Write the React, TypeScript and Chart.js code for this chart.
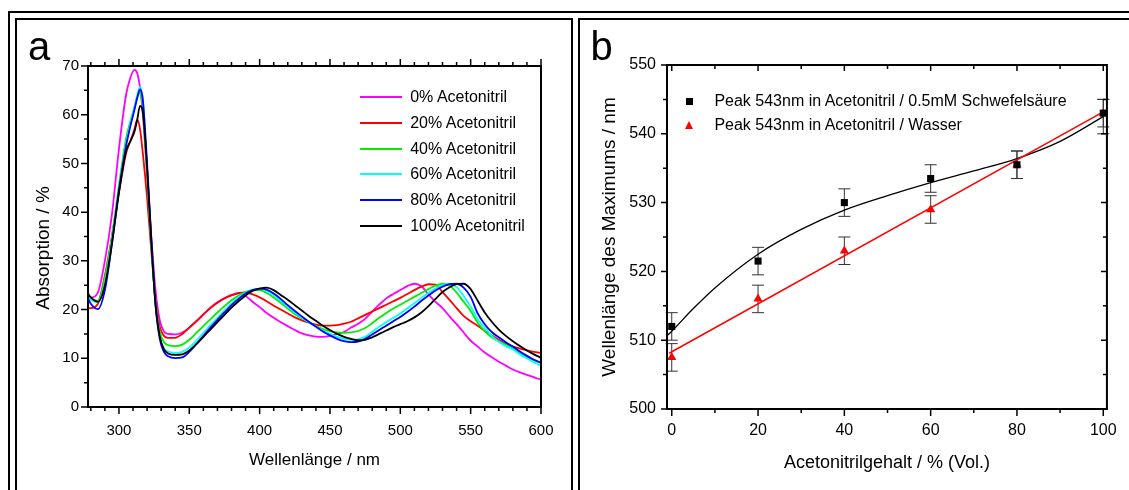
import React, { useEffect, useRef } from 'react';
import { Chart, registerables } from 'chart.js';

Chart.register(...registerables);

const FONT = '"Liberation Sans", Arial, Helvetica, sans-serif';

// ---------- Panel a: absorption spectra ----------
const wavelengths = [278, 280, 285, 290, 295, 300, 305, 308, 311, 313, 315, 317, 320, 323, 326, 329, 332,
  335, 340, 345, 350, 355, 360, 365, 370, 375, 380, 385, 390, 395, 400, 405, 410, 415, 420, 425, 430, 435,
  440, 445, 450, 455, 460, 465, 470, 475, 480, 485, 490, 495, 500, 505, 510, 515, 520, 525, 530, 535, 540,
  545, 550, 555, 560, 565, 570, 575, 580, 585, 590, 595, 600];

const abs0 = [23.0, 22.5, 23.5, 30.0, 39.5, 53.0, 64.0, 67.5, 69.2, 68.5, 65.5, 60.0, 47.5, 35.0, 24.0, 17.8, 15.5,
  15.0, 14.9, 15.3, 16.3, 17.6, 19.0, 20.4, 21.5, 22.3, 23.0, 23.4, 22.8, 21.6, 20.5, 19.3, 18.3, 17.4, 16.6, 15.8, 15.1, 14.7,
  14.45, 14.4, 14.6, 15.0, 15.4, 16.3, 17.1, 18.1, 19.6, 21.0, 22.3, 23.2, 24.0, 24.8, 25.3, 24.8, 23.1, 21.6, 20.3, 18.6, 17.0,
  15.3, 13.6, 12.4, 11.2, 10.2, 9.3, 8.5, 7.7, 7.1, 6.6, 6.1, 5.6];
const abs20 = [20.3, 20.3, 21.2, 27.0, 35.0, 44.0, 52.0, 54.5, 57.0, 59.0, 57.0, 52.0, 43.0, 32.0, 22.0, 16.5, 14.6,
  14.2, 14.2, 15.0, 16.3, 17.6, 19.0, 20.3, 21.4, 22.3, 22.9, 23.4, 23.5, 23.1, 22.5, 21.7, 20.8, 20.0, 19.2, 18.4, 17.8, 17.3,
  16.9, 16.7, 16.7, 16.8, 17.1, 17.5, 18.2, 18.9, 19.6, 20.3, 21.0, 21.7, 22.4, 23.2, 24.0, 24.7, 25.2, 25.1, 23.6, 22.0, 20.3,
  18.7, 17.6, 16.7, 15.6, 14.7, 13.8, 13.0, 12.4, 12.0, 11.6, 11.3, 11.1];
const abs40 = [22.5, 22.2, 21.8, 26.5, 35.0, 45.5, 55.0, 58.5, 61.5, 63.5, 64.5, 61.0, 48.0, 33.5, 21.5, 15.5, 13.3,
  12.7, 12.5, 12.8, 13.8, 15.2, 16.6, 18.0, 19.4, 20.7, 21.9, 22.9, 23.6, 24.0, 24.0, 23.4, 22.5, 21.4, 20.2, 19.1, 18.2, 17.4,
  16.6, 16.0, 15.6, 15.3, 15.2, 15.3, 15.6, 16.2, 17.2, 18.3, 19.3, 20.2, 21.0, 21.8, 22.6, 23.4, 24.2, 24.9, 25.3, 24.9, 23.5,
  21.6, 19.7, 17.3, 15.6, 14.3, 13.5, 12.8, 12.1, 11.1, 10.3, 9.6, 9.0];
const abs60 = [22.7, 22.0, 21.5, 25.5, 34.0, 45.0, 54.0, 58.0, 61.5, 64.0, 65.7, 63.0, 49.0, 33.5, 21.0, 14.5, 12.0,
  11.4, 11.1, 11.3, 12.2, 13.6, 15.2, 16.8, 18.3, 19.8, 21.2, 22.5, 23.4, 24.1, 24.3, 23.9, 23.0, 21.8, 20.6, 19.4, 18.4, 17.4,
  16.5, 15.7, 15.0, 14.4, 14.0, 13.8, 13.9, 14.4, 15.4, 16.5, 17.4, 18.3, 19.2, 20.2, 21.3, 22.4, 23.4, 24.3, 25.0, 25.3, 24.6,
  22.8, 20.6, 18.0, 16.3, 14.6, 13.4, 12.5, 11.8, 10.8, 10.0, 9.2, 8.5];
const abs80 = [22.3, 21.2, 20.1, 24.0, 33.5, 44.5, 53.5, 57.5, 61.0, 63.5, 65.2, 63.0, 50.0, 34.5, 21.0, 14.0, 11.3,
  10.4, 10.05, 10.2, 11.3, 12.9, 14.6, 16.3, 17.9, 19.4, 20.9, 22.2, 23.3, 24.0, 24.3, 24.1, 23.3, 22.2, 20.9, 19.7, 18.6, 17.5,
  16.5, 15.5, 14.7, 14.0, 13.5, 13.3, 13.4, 14.0, 14.9, 15.8, 16.7, 17.6, 18.5, 19.5, 20.6, 21.8, 22.9, 23.9, 24.7, 25.2, 25.3,
  24.5, 22.6, 19.2, 17.0, 15.4, 14.3, 13.3, 12.4, 11.4, 10.5, 9.7, 9.1];
const abs100 = [23.3, 22.5, 21.6, 25.0, 33.5, 44.0, 52.5, 54.5, 56.5, 59.0, 61.8, 60.5, 49.0, 34.0, 21.0, 14.5, 11.8,
  11.0, 10.7, 10.8, 11.6, 12.9, 14.4, 15.9, 17.4, 18.9, 20.4, 21.7, 22.9, 23.8, 24.3, 24.5, 24.0, 23.0, 22.0, 20.9, 19.8, 18.7,
  17.7, 16.7, 15.8, 15.0, 14.4, 14.0, 13.7, 13.8, 14.3, 15.0, 15.7, 16.4, 17.0, 17.6, 18.4, 19.4, 20.7, 22.2, 23.6, 24.6, 25.2,
  25.3, 24.2, 21.8, 19.4, 17.5, 15.9, 14.6, 13.5, 12.5, 11.6, 10.8, 10.1];

const seriesLabels = ['0% Acetonitril', '20% Acetonitril', '40% Acetonitril', '60% Acetonitril', '80% Acetonitril', '100% Acetonitril'];
const seriesColors = ['#ff00ff', '#ff0000', '#00ee00', '#00ffff', '#0000ff', '#000000'];
const seriesValues = [abs0, abs20, abs40, abs60, abs80, abs100];

const aXTicks = [300, 350, 400, 450, 500, 550, 600];
const aYTicks = [0, 10, 20, 30, 40, 50, 60, 70];

// ---------- Panel b: peak position vs. acetonitrile content ----------
const content = [0, 20, 40, 60, 80, 100];
const peakAcid = [512, 521.5, 530, 533.5, 535.5, 543];
const acidLow = [510, 519.5, 528, 531.5, 533.5, 541];
const acidHigh = [514, 523.5, 532, 535.5, 537.5, 545];
const peakWater = [507.5, 516, 523, 529, 535.5, 543];
const waterLow = [505.5, 514, 521, 527, 533.5, 540];
const waterHigh = [509.5, 518, 525, 531, 537.5, 545];

const fitAcidX = [-1, 0, 5, 10, 20, 30, 40, 50, 60, 70, 80, 90, 100];
const fitAcidY = [510.7, 511.3, 514.6, 517.6, 522.5, 526.1, 528.9, 531.0, 532.9, 534.6, 536.4, 538.9, 542.5];
const fitWaterX = [-0.6, 100];
const fitWaterY = [508.1, 543.2];

const bXTicks = [0, 20, 40, 60, 80, 100];
const bYTicks = [500, 510, 520, 530, 540, 550];

const legendB = [
  { label: 'Peak 543nm in Acetonitril / 0.5mM Schwefelsäure', color: '#000000', shape: 'square' },
  { label: 'Peak 543nm in Acetonitril / Wasser', color: '#ff0000', shape: 'triangle' },
];

type TickSpec = { major: number[]; minor: number[]; majLen: number; minLen: number; out: boolean };

function range(a: number, b: number, step: number): number[] {
  const r: number[] = [];
  for (let v = a; v <= b + 1e-9; v += step) r.push(Math.round(v * 1000) / 1000);
  return r;
}

function framePlugin(id: string, cfg: { bottom?: TickSpec; top?: TickSpec; left?: TickSpec; right?: TickSpec }) {
  return {
    id,
    afterDatasetsDraw(chart: any) {
      const { ctx, chartArea: ca, scales } = chart;
      const xs = scales.x;
      const ys = scales.y;
      ctx.save();
      ctx.strokeStyle = '#000';
      ctx.lineWidth = 2;
      ctx.beginPath();
      ctx.rect(ca.left, ca.top, ca.right - ca.left, ca.bottom - ca.top);
      ctx.stroke();
      ctx.lineWidth = 1.5;
      ctx.beginPath();
      const drawSet = (spec: TickSpec | undefined, edge: 'bottom' | 'top' | 'left' | 'right') => {
        if (!spec) return;
        const list: [number, number][] = [
          ...spec.major.map((v) => [v, spec.majLen] as [number, number]),
          ...spec.minor.map((v) => [v, spec.minLen] as [number, number]),
        ];
        for (const [v, len] of list) {
          if (edge === 'bottom' || edge === 'top') {
            const px = xs.getPixelForValue(v);
            if (px < ca.left - 0.5 || px > ca.right + 0.5) continue;
            const y0 = edge === 'bottom' ? ca.bottom : ca.top;
            const sign = (edge === 'bottom' ? 1 : -1) * (spec.out ? 1 : -1);
            ctx.moveTo(px, y0);
            ctx.lineTo(px, y0 + sign * len);
          } else {
            const py = ys.getPixelForValue(v);
            if (py < ca.top - 0.5 || py > ca.bottom + 0.5) continue;
            const x0 = edge === 'left' ? ca.left : ca.right;
            const sign = (edge === 'left' ? -1 : 1) * (spec.out ? 1 : -1);
            ctx.moveTo(x0, py);
            ctx.lineTo(x0 + sign * len, py);
          }
        }
      };
      drawSet(cfg.bottom, 'bottom');
      drawSet(cfg.top, 'top');
      drawSet(cfg.left, 'left');
      drawSet(cfg.right, 'right');
      ctx.stroke();
      ctx.restore();
    },
  };
}

const errorBarPlugin = {
  id: 'errorBars',
  beforeDatasetsDraw(chart: any) {
    const { ctx, scales } = chart;
    const xs = scales.x;
    const ys = scales.y;
    ctx.save();
    ctx.strokeStyle = '#333';
    ctx.lineWidth = 1;
    ctx.beginPath();
    const bar = (x: number, lo: number, hi: number) => {
      const px = xs.getPixelForValue(x);
      const pl = ys.getPixelForValue(lo);
      const ph = ys.getPixelForValue(hi);
      ctx.moveTo(px, pl);
      ctx.lineTo(px, ph);
      ctx.moveTo(px - 6, pl);
      ctx.lineTo(px + 6, pl);
      ctx.moveTo(px - 6, ph);
      ctx.lineTo(px + 6, ph);
    };
    content.forEach((x, i) => {
      bar(x, acidLow[i], acidHigh[i]);
      bar(x, waterLow[i], waterHigh[i]);
    });
    ctx.stroke();
    ctx.restore();
  },
};

const aXMinor = range(280, 600, 10).filter((v) => !aXTicks.includes(v));
const aYMinor = range(5, 65, 10);
const bXMinor = range(10, 90, 20);
const bYMinor = range(505, 545, 10);

function tickFont(size: number) {
  return { family: FONT, size };
}

export default function App() {
  const refA = useRef<HTMLCanvasElement | null>(null);
  const refB = useRef<HTMLCanvasElement | null>(null);

  useEffect(() => {
    const chartA = new Chart(refA.current as HTMLCanvasElement, {
      type: 'line',
      data: {
        datasets: seriesValues.map((vals, i) => ({
          label: seriesLabels[i],
          data: wavelengths.map((w, j) => ({ x: w, y: vals[j] })),
          borderColor: seriesColors[i],
          backgroundColor: seriesColors[i],
          borderWidth: 1.8,
          pointRadius: 0,
          cubicInterpolationMode: 'monotone',
          fill: false,
          order: 5 - i,
        })),
      },
      options: {
        animation: false,
        responsive: false,
        devicePixelRatio: 1,
        layout: { padding: { left: 0, top: 66, right: 34, bottom: 0 } },
        plugins: { legend: { display: false }, tooltip: { enabled: false } },
        scales: {
          x: {
            type: 'linear',
            min: 278,
            max: 600,
            afterBuildTicks: (s: any) => {
              s.ticks = aXTicks.map((v) => ({ value: v }));
            },
            afterFit: (s: any) => {
              s.height = 83;
            },
            grid: { display: false, drawTicks: false },
            border: { display: false },
            ticks: { font: tickFont(15), color: '#000', padding: 14.5, maxRotation: 0, autoSkip: false },
            title: {
              display: true,
              text: 'Wellenlänge / nm',
              color: '#000',
              font: { family: FONT, size: 17 },
              padding: { top: 0, bottom: 19.8 },
            },
          },
          y: {
            type: 'linear',
            min: 0,
            max: 70,
            afterBuildTicks: (s: any) => {
              s.ticks = aYTicks.map((v) => ({ value: v }));
            },
            afterFit: (s: any) => {
              s.width = 88;
            },
            grid: { display: false, drawTicks: false },
            border: { display: false },
            ticks: { font: tickFont(15), color: '#000', padding: 9, autoSkip: false },
          },
        },
      } as any,
      plugins: [
        framePlugin('frameA', {
          bottom: { major: aXTicks, minor: aXMinor, majLen: 7, minLen: 4, out: true },
          top: { major: aXTicks, minor: aXMinor, majLen: 7, minLen: 4, out: true },
          left: { major: aYTicks, minor: aYMinor, majLen: 7, minLen: 4, out: true },
        }),
      ],
    });

    const chartB = new Chart(refB.current as HTMLCanvasElement, {
      type: 'scatter',
      data: {
        datasets: [
          {
            label: legendB[0].label,
            data: content.map((x, i) => ({ x, y: peakAcid[i] })),
            pointStyle: 'rect',
            pointRadius: 5,
            backgroundColor: '#000',
            borderColor: '#000',
            borderWidth: 0,
            showLine: false,
            order: 0,
          },
          {
            label: legendB[1].label,
            data: content.map((x, i) => ({ x, y: peakWater[i] })),
            pointStyle: 'triangle',
            pointRadius: 5.3,
            backgroundColor: '#ff0000',
            borderColor: '#ff0000',
            borderWidth: 0,
            showLine: false,
            order: 1,
          },
          {
            label: 'Fit Schwefelsäure',
            data: fitAcidX.map((x, i) => ({ x, y: fitAcidY[i] })),
            showLine: true,
            pointRadius: 0,
            borderColor: '#000',
            borderWidth: 1.3,
            cubicInterpolationMode: 'monotone',
            order: 3,
          },
          {
            label: 'Fit Wasser',
            data: fitWaterX.map((x, i) => ({ x, y: fitWaterY[i] })),
            showLine: true,
            pointRadius: 0,
            borderColor: '#ff0000',
            borderWidth: 1.5,
            order: 2,
          },
        ],
      },
      options: {
        animation: false,
        responsive: false,
        devicePixelRatio: 1,
        layout: { padding: { left: 0, top: 65, right: 22, bottom: 0 } },
        plugins: { legend: { display: false }, tooltip: { enabled: false } },
        scales: {
          x: {
            type: 'linear',
            min: -1.1,
            max: 100.85,
            afterBuildTicks: (s: any) => {
              s.ticks = bXTicks.map((v) => ({ value: v }));
            },
            afterFit: (s: any) => {
              s.height = 81;
            },
            grid: { display: false, drawTicks: false },
            border: { display: false },
            ticks: { font: tickFont(16), color: '#000', padding: 12.2, maxRotation: 0, autoSkip: false },
            title: {
              display: true,
              text: 'Acetonitrilgehalt / % (Vol.)',
              color: '#000',
              font: { family: FONT, size: 18 },
              padding: { top: 0, bottom: 16.6 },
            },
          },
          y: {
            type: 'linear',
            min: 500,
            max: 550,
            afterBuildTicks: (s: any) => {
              s.ticks = bYTicks.map((v) => ({ value: v }));
            },
            afterFit: (s: any) => {
              s.width = 92;
            },
            grid: { display: false, drawTicks: false },
            border: { display: false },
            ticks: { font: tickFont(16), color: '#000', padding: 11, autoSkip: false },
            title: {
              display: true,
              text: 'Wellenlänge des Maximums / nm',
              color: '#000',
              font: { family: FONT, size: 19 },
              padding: { top: 23.7, bottom: 0 },
            },
          },
        },
      } as any,
      plugins: [
        errorBarPlugin,
        framePlugin('frameB', {
          bottom: { major: bXTicks, minor: bXMinor, majLen: 7, minLen: 4, out: true },
          top: { major: bXTicks, minor: bXMinor, majLen: 6, minLen: 4, out: false },
          left: { major: bYTicks, minor: bYMinor, majLen: 6, minLen: 4, out: true },
          right: { major: bYTicks, minor: bYMinor, majLen: 6, minLen: 4, out: false },
        }),
      ],
    });

    return () => {
      chartA.destroy();
      chartB.destroy();
    };
  }, []);

  const frame = (left: number, top: number, width: number): React.CSSProperties => ({
    position: 'absolute',
    left,
    top,
    width,
    height: 700,
    border: '2px solid #000',
    boxSizing: 'border-box',
  });

  return (
    <div
      style={{
        position: 'absolute',
        left: 0,
        top: 0,
        width: 1129,
        height: 490,
        overflow: 'hidden',
        background: '#fff',
        fontFamily: FONT,
        color: '#000',
      }}
    >
      <div style={frame(8, 11, 1300)} />
      <div style={frame(15, 18, 558)} />
      <div style={frame(578, 18, 800)} />

      <canvas ref={refA} width={575} height={490} style={{ position: 'absolute', left: 0, top: 0, width: 575, height: 490 }} />
      <canvas ref={refB} width={554} height={490} style={{ position: 'absolute', left: 575, top: 0, width: 554, height: 490 }} />

      <div style={{ position: 'absolute', left: 28, top: 26, fontSize: 40, lineHeight: '40px' }}>a</div>
      <div style={{ position: 'absolute', left: 590.5, top: 26, fontSize: 40, lineHeight: '40px' }}>b</div>

      <div
        style={{
          position: 'absolute',
          left: 41.7,
          top: 247.5,
          fontSize: 19,
          lineHeight: '19px',
          whiteSpace: 'nowrap',
          transform: 'translate(-50%, -50%) rotate(-90deg)',
        }}
      >
        Absorption / %
      </div>

      <div style={{ position: 'absolute', left: 359.6, top: 84.45 }}>
        {seriesLabels.map((lab, i) => (
          <div key={lab} style={{ display: 'flex', alignItems: 'center', height: 25.7 }}>
            <div style={{ width: 42, height: 2, background: seriesColors[i] }} />
            <span style={{ marginLeft: 8.6, fontSize: 16, whiteSpace: 'nowrap' }}>{lab}</span>
          </div>
        ))}
      </div>

      <div style={{ position: 'absolute', left: 682.4, top: 89.15 }}>
        {legendB.map((item) => (
          <div key={item.label} style={{ display: 'flex', alignItems: 'center', height: 24.1 }}>
            <div style={{ width: 14, display: 'flex', justifyContent: 'center', alignItems: 'center' }}>
              {item.shape === 'square' ? (
                <div style={{ width: 7, height: 7, background: item.color }} />
              ) : (
                <div
                  style={{
                    width: 0,
                    height: 0,
                    borderLeft: '4.5px solid transparent',
                    borderRight: '4.5px solid transparent',
                    borderBottom: '8px solid ' + item.color,
                  }}
                />
              )}
            </div>
            <span style={{ marginLeft: 18, fontSize: 16, whiteSpace: 'nowrap' }}>{item.label}</span>
          </div>
        ))}
      </div>
    </div>
  );
}
